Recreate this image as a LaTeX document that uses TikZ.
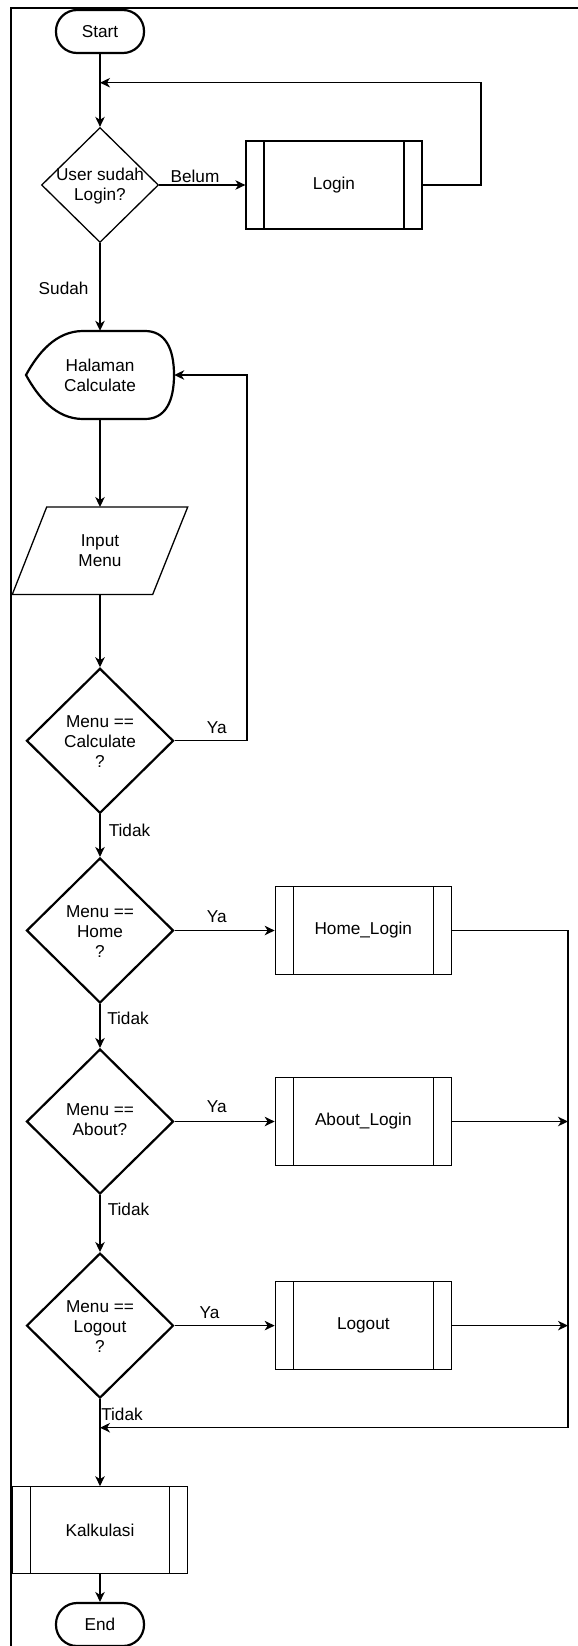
\documentclass[tikz,border=0pt]{standalone}
\usepackage{fontspec}
\setmainfont{Liberation Sans}
\usetikzlibrary{shapes.geometric,arrows.meta,calc}
\begin{document}
\begin{tikzpicture}[x=1pt,y=-1pt,
 font=\fontsize{17.2}{20}\selectfont,
 ln/.style={line width=1.3pt,draw=black},
 arr/.style={ln,-{Stealth[length=10pt,width=9.5pt,inset=3pt]}},
 term/.style={draw=black,line width=2.2pt,rectangle,rounded corners=21pt,minimum width=88pt,minimum height=43pt,inner sep=0pt},
 dec/.style={draw=black,diamond,inner sep=0pt,minimum width=147pt,minimum height=145pt,line width=2.2pt},
 proc/.style={draw=black,line width=1.3pt,rectangle,minimum width=176pt,minimum height=88pt,inner sep=0pt,
   path picture={\draw[black,line width=1.3pt]
     ([xshift=18pt]path picture bounding box.north west) -- ([xshift=18pt]path picture bounding box.south west)
     ([xshift=-18pt]path picture bounding box.north east) -- ([xshift=-18pt]path picture bounding box.south east);}},
 txt/.style={align=center,inner sep=0pt},
 lab/.style={inner sep=0pt}]
\useasboundingbox (0,0) rectangle (578,1646);
\draw[line width=2.2pt] (11,1660) -- (11,8) -- (590,8);

% nodes
\node[term] (start) at (100,31.5) {Start};
\node[dec,line width=1.3pt,minimum width=117pt,minimum height=115pt] (d1) at (100,185) {};
\node[txt] (d1t) at (100,186) {User sudah\\Login?};
\node[proc] (login) at (334,185) {Login};
\coordinate (j1) at (100,82.7);
\coordinate (cR1) at (481,82.7);

\node[txt,minimum width=148pt,minimum height=88pt] (hal) at (100,375) {Halaman\\Calculate};
\draw[line width=2.2pt,shift={(hal.center)}] (-17,-44) -- (45,-44)
  .. controls (65,-44) and (74,-27) .. (74,0)
  .. controls (74,27) and (65,44) .. (45,44) -- (-17,44)
  .. controls (-44,44) and (-62,22) .. (-74,0)
  .. controls (-62,-22) and (-44,-44) .. (-17,-44) -- cycle;

\node[txt,minimum width=106pt,minimum height=87pt] (inp) at (100,550.7) {Input\\Menu};
\draw[line width=1.3pt,shift={(inp.center)}] (-53.3,-43.7) -- (87.7,-43.7) -- (52.7,43.7) -- (-87.7,43.7) -- cycle;

\node[dec] (dcalc) at (100,740.8) {};
\node[txt] (dcalct) at (100,742) {Menu ==\\Calculate\\?};
\node[dec] (dhome) at (100,930.5) {};
\node[txt] (dhomet) at (100,931.5) {Menu ==\\Home\\?};
\node[dec] (dabout) at (100,1121.5) {};
\node[txt] (dabtt) at (100,1120) {Menu ==\\About?};
\node[dec] (dlog) at (100,1325.6) {};
\node[txt] (dlogt) at (100,1326.5) {Menu ==\\Logout\\?};

\node[proc] (homel) at (363.3,930.5) {Home\_Login};
\node[proc] (aboutl) at (363.3,1121.5) {About\_Login};
\node[proc] (logout) at (363.3,1325.6) {Logout};
\node[proc,minimum width=175pt,minimum height=87pt] (kalk) at (100,1530.3) {Kalkulasi};
\node[term] (end) at (100,1624.5) {End};

% connectors
\draw[arr] (start.south) -- (d1.north);
\draw[arr] (login.east) -| (cR1) -- (j1);
\draw[arr] (d1.east) -- (login.west);
\node[lab] (lbelum) at (195,176) {Belum};
\draw[arr] (d1.south) -- (hal.north);
\node[lab] (lsudah) at (63.6,288) {Sudah};
\draw[arr] (hal.south) -- (inp.north);
\draw[arr] (inp.south) -- (dcalc.north);
\coordinate (cYa) at (247,740.8);
\draw[arr] (dcalc.east) -- (cYa) |- (hal.east);
\node[lab] (lya1) at (216.7,727.3) {Ya};
\draw[arr] (dcalc.south) -- (dhome.north);
\node[lab] (lt1) at (129.5,830) {Tidak};
\draw[arr] (dhome.east) -- (homel.west);
\node[lab] (lya2) at (216.7,916.7) {Ya};
\coordinate (cR3) at (568,1427.7);
\coordinate (j2) at (100,1427.7);
\draw[ln] (homel.east) -| (cR3);
\draw[arr] (cR3) -- (j2);
\coordinate (cA) at (568,1121.5);
\draw[arr] (aboutl.east) -- (cA);
\coordinate (cL) at (568,1325.6);
\draw[arr] (logout.east) -- (cL);
\draw[arr] (dhome.south) -- (dabout.north);
\node[lab] (lt2) at (128,1018) {Tidak};
\draw[arr] (dabout.east) -- (aboutl.west);
\node[lab] (lya3) at (216.7,1107) {Ya};
\draw[arr] (dabout.south) -- (dlog.north);
\node[lab] (lt3) at (128.5,1209.3) {Tidak};
\draw[arr] (dlog.east) -- (logout.west);
\node[lab] (lya4) at (209.5,1312.3) {Ya};
\draw[arr] (dlog.south) -- (kalk.north);
\node[lab] (lt4) at (122,1414.3) {Tidak};
\draw[arr] (kalk.south) -- (end.north);
\end{tikzpicture}
\end{document}
